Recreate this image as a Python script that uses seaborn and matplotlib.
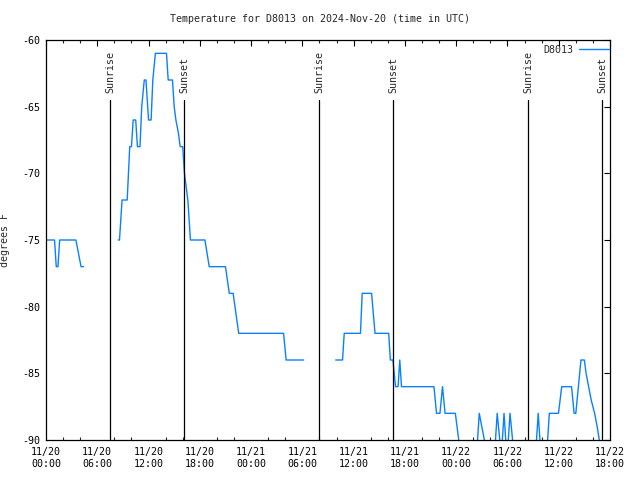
import numpy as np
import pandas as pd
import matplotlib
matplotlib.use("Agg")
import matplotlib.pyplot as plt
import seaborn as sns
from matplotlib.lines import Line2D

# ---- data (hours since 2024-11-20 00:00 UTC, degrees F) ----
seg_a_hours = [0.0, 1.0, 1.2, 1.4, 1.6, 3.5, 3.8, 4.1, 4.4]
seg_a_temps = [-75, -75, -77, -77, -75, -75, -76, -77, -77]

seg_b_hours = [8.45, 8.6, 8.9, 9.5, 9.8, 10.0, 10.2, 10.5, 10.7, 11.0, 11.2, 11.5, 11.7,
               12.0, 12.3, 12.5, 12.8, 14.1, 14.3, 14.8, 15.0, 15.2, 15.5, 15.7, 16.0,
               16.2, 16.4, 16.6, 16.9, 18.6, 19.1, 21.0, 21.45, 21.9, 22.55, 27.8, 28.1, 30.15]
seg_b_temps = [-75, -75, -72, -72, -68, -68, -66, -66, -68, -68, -65, -63, -63,
               -66, -66, -63, -61, -61, -63, -63, -65, -66, -67, -68, -68,
               -70, -71, -72, -75, -75, -77, -77, -79, -79, -82, -82, -84, -84]

seg_c_hours = [33.9, 34.7, 34.9, 36.8, 37.0, 38.1, 38.5, 40.1, 40.3, 40.6, 40.9, 41.2, 41.4,
               41.6, 45.4, 45.7, 46.1, 46.4, 46.7, 47.9, 48.3, 48.6, 50.2, 50.5, 50.7, 51.0,
               51.3, 51.6, 52.4, 52.6, 52.8, 53.1, 53.3, 53.4, 53.6, 53.8, 54.0, 54.1, 54.3,
               54.6, 54.9, 57.2, 57.4, 57.6, 57.8, 58.0, 58.5, 58.7, 58.9, 59.97, 60.35, 61.5,
               61.8, 62.0, 62.3, 62.6, 63.0, 63.2, 63.5, 63.8, 64.2, 64.5, 64.75, 65.0, 66.0]
seg_c_temps = [-84, -84, -82, -82, -79, -79, -82, -82, -84, -84, -86, -86, -84,
               -86, -86, -88, -88, -86, -88, -88, -90, -91, -91, -90, -88, -89,
               -90, -91, -91, -90, -88, -90, -91, -90, -88, -90, -91, -90, -88,
               -90, -91, -91, -90, -88, -90, -91, -91, -90, -88, -88, -86, -86,
               -88, -88, -86, -84, -84, -85, -86, -87, -88, -89, -90, -91, -91]

sunrise_hours = [7.49, 31.95, 56.4]
sunset_hours = [16.15, 40.6, 65.07]

tick_hours = [0, 6, 12, 18, 24, 30, 36, 42, 48, 54, 60, 66]
tick_labels = ["11/20\n00:00", "11/20\n06:00", "11/20\n12:00", "11/20\n18:00",
               "11/21\n00:00", "11/21\n06:00", "11/21\n12:00", "11/21\n18:00",
               "11/22\n00:00", "11/22\n06:00", "11/22\n12:00", "11/22\n18:00"]
ytick_values = [-90, -85, -80, -75, -70, -65, -60]

df = pd.concat([
    pd.DataFrame({"hours": seg_a_hours, "temp": seg_a_temps, "seg": "a"}),
    pd.DataFrame({"hours": seg_b_hours, "temp": seg_b_temps, "seg": "b"}),
    pd.DataFrame({"hours": seg_c_hours, "temp": seg_c_temps, "seg": "c"}),
], ignore_index=True)

sns.set_style("white")
plt.rcParams["font.family"] = ["DejaVu Sans Mono"]
plt.rcParams["font.size"] = 7.2

fig = plt.figure(figsize=(6.4, 4.8), dpi=100)
ax = fig.add_axes([46/640, 1 - 440/480, 564/640, 400/480])

line_color = "#0a80ff"
sns.lineplot(data=df, x="hours", y="temp", units="seg", estimator=None,
             color=line_color, linewidth=1.0, ax=ax, sort=False, legend=False)

ax.set_xlim(0, 66)
ax.set_ylim(-90, -60)

for h in sunrise_hours:
    ax.plot([h, h], [-90, -64.5], color="black", linewidth=0.9, clip_on=False)
    ax.text(h + 0.05, -63.95, "Sunrise", rotation=90, ha="center", va="bottom", fontsize=7.2)
for h in sunset_hours:
    ax.plot([h, h], [-90, -64.5], color="black", linewidth=0.9, clip_on=False)
    ax.text(h + 0.05, -63.95, "Sunset", rotation=90, ha="center", va="bottom", fontsize=7.2)

ax.set_xticks(tick_hours)
ax.set_xticklabels(tick_labels)
ax.set_xticks(np.arange(0, 67, 2), minor=True)
ax.set_yticks(ytick_values)
ax.set_yticklabels([str(v) for v in ytick_values])

ax.tick_params(axis="both", which="major", direction="in", length=4.5, width=0.8,
               top=True, right=True, colors="black", labelsize=7.2)
ax.tick_params(axis="x", which="minor", direction="in", length=2.5, width=0.8,
               top=True, bottom=True)
ax.tick_params(axis="x", which="major", pad=5)
ax.tick_params(axis="y", which="major", pad=4)

for sp in ax.spines.values():
    sp.set_color("black")
    sp.set_linewidth(0.9)

ax.set_xlabel("")
ax.set_ylabel("degrees F", fontsize=7.2)
ax.yaxis.set_label_coords((10 - 46) / 564, 0.5)
fig.text(0.5, 1 - 19/480, "Temperature for D8013 on 2024-Nov-20 (time in UTC)",
         ha="center", va="center", fontsize=7.2)

handle = Line2D([0], [0], color=line_color, linewidth=1.0)
ax.legend([handle], ["D8013"], loc="upper right", frameon=False, markerfirst=False,
          handlelength=3.0, handletextpad=0.6, borderaxespad=0.1, borderpad=0.0,
          fontsize=7.2, bbox_to_anchor=(1.0, 0.99))

fig.savefig("out.png", dpi=100, facecolor="white")
